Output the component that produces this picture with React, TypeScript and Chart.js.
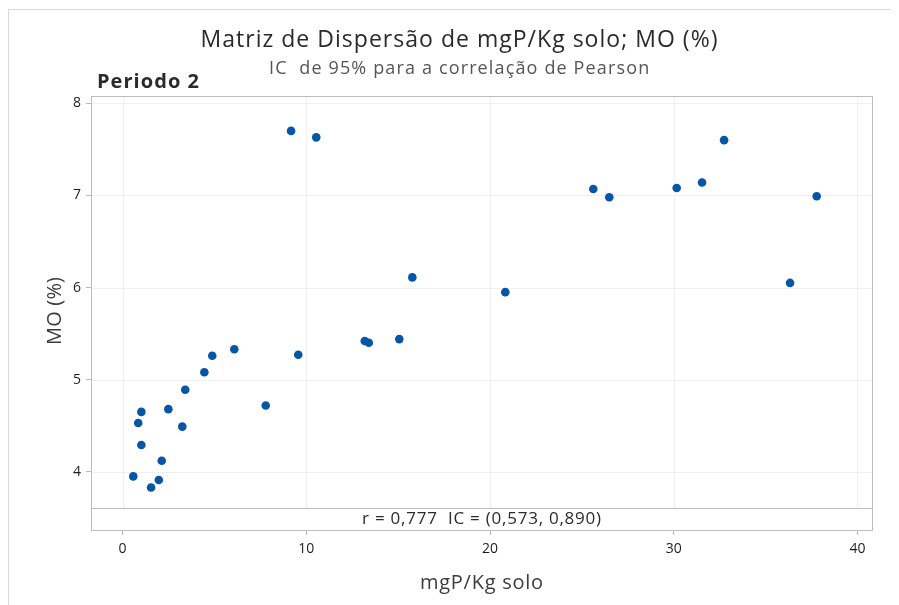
import React, { useEffect, useRef } from "react";
import { Chart, registerables } from "chart.js";

Chart.register(...registerables);

const mgP: number[] = [
  0.58, 1.55, 1.97, 2.13, 1.02, 0.85, 1.02, 2.49, 3.25, 3.41, 4.45, 4.88, 6.08, 7.79, 9.56,
  9.17, 10.54, 15.77, 20.83, 13.18, 13.4, 15.06, 25.62, 26.49, 30.16, 31.54, 32.74, 37.78, 36.33,
];
const MO: number[] = [
  3.95, 3.83, 3.91, 4.12, 4.29, 4.53, 4.65, 4.68, 4.49, 4.89, 5.08, 5.26, 5.33, 4.72, 5.27,
  7.7, 7.63, 6.11, 5.95, 5.42, 5.4, 5.44, 7.07, 6.98, 7.08, 7.14, 7.6, 6.99, 6.05,
];
const xTicks: number[] = [0, 10, 20, 30, 40];
const yTicks: number[] = [4, 5, 6, 7, 8];

const titleText = "Matriz de Dispersão de mgP/Kg solo; MO (%)";
const subtitleText = "IC  de 95% para a correlação de Pearson";
const panelText = "Periodo 2";
const statText = "r = 0,777  IC = (0,573, 0,890)";
const xTitle = "mgP/Kg solo";
const yTitle = "MO (%)";

const FONT = "'Open Sans', 'Noto Sans', sans-serif";
const STRIP_Y = 3.607;

// draw text stretched (via letter spacing) to a target width
function drawFitted(ctx: any, text: string, x: number, y: number, font: string, width: number, align: "left" | "center") {
  ctx.save();
  ctx.font = font;
  ctx.letterSpacing = "0px";
  const w0 = ctx.measureText(text).width;
  const sp = text.length > 1 ? (width - w0) / (text.length - 1) : 0;
  ctx.letterSpacing = `${sp.toFixed(2)}px`;
  ctx.textAlign = "left";
  const startX = align === "center" ? x - width / 2 : x;
  ctx.fillText(text, startX, y);
  ctx.restore();
}

const decor = {
  id: "decor",
  beforeDatasetsDraw(chart: any) {
    const { ctx, chartArea: a, scales } = chart;
    const xs = scales.x;
    const ys = scales.y;
    const stripPx = ys.getPixelForValue(STRIP_Y);
    ctx.save();
    ctx.lineWidth = 1;
    ctx.strokeStyle = "#f0f0f0";
    for (const t of xTicks) {
      const px = Math.round(xs.getPixelForValue(t)) + 0.5;
      ctx.beginPath();
      ctx.moveTo(px, a.top);
      ctx.lineTo(px, stripPx);
      ctx.stroke();
    }
    for (const t of yTicks) {
      const py = Math.round(ys.getPixelForValue(t)) + 0.5;
      ctx.beginPath();
      ctx.moveTo(a.left, py);
      ctx.lineTo(a.right, py);
      ctx.stroke();
    }
    ctx.strokeStyle = "#bcbcbc";
    ctx.strokeRect(Math.round(a.left) + 0.5, Math.round(a.top) + 0.5, Math.round(a.right - a.left), Math.round(a.bottom - a.top));
    ctx.beginPath();
    ctx.moveTo(a.left, Math.round(stripPx) + 0.5);
    ctx.lineTo(a.right, Math.round(stripPx) + 0.5);
    ctx.stroke();
    ctx.restore();
  },
  afterDraw(chart: any) {
    const { ctx, chartArea: a } = chart;
    const cx = (a.left + a.right) / 2;
    ctx.save();
    ctx.textBaseline = "alphabetic";
    ctx.fillStyle = "#2a2a2a";
    drawFitted(ctx, titleText, 450, 37, `23px ${FONT}`, 517, "center");
    ctx.fillStyle = "#555555";
    drawFitted(ctx, subtitleText, 450, 64, `18px ${FONT}`, 380, "center");
    ctx.fillStyle = "#2b2b2b";
    drawFitted(ctx, panelText, 88, 78, `bold 20px ${FONT}`, 102, "left");
    ctx.fillStyle = "#2b2b2b";
    drawFitted(ctx, statText, cx, 514, `17px ${FONT}`, 239, "center");
    ctx.fillStyle = "#3c3c3c";
    drawFitted(ctx, xTitle, cx, 579, `20px ${FONT}`, 123, "center");
    ctx.translate(52, 301);
    ctx.rotate(-Math.PI / 2);
    drawFitted(ctx, yTitle, 0, 0, `20px ${FONT}`, 68, "center");
    ctx.restore();
  },
};

export default function App() {
  const ref = useRef<HTMLCanvasElement | null>(null);
  useEffect(() => {
    document.documentElement.style.overflow = "hidden";
    const canvas = ref.current!;
    const chart = new Chart(canvas, {
      type: "scatter",
      data: {
        datasets: [
          {
            data: mgP.map((x, i) => ({ x, y: MO[i] })),
            backgroundColor: "#0656a8",
            borderColor: "#0656a8",
            borderWidth: 0,
            pointRadius: 4.3,
            pointHoverRadius: 4.3,
          },
        ],
      },
      options: {
        responsive: false,
        animation: false,
        events: [],
        layout: { padding: { left: 0, top: 86, right: 27, bottom: 0 } },
        plugins: { legend: { display: false }, tooltip: { enabled: false }, title: { display: false } },
        scales: {
          x: {
            type: "linear",
            min: -1.72,
            max: 40.79,
            afterBuildTicks: (axis: any) => {
              axis.ticks = xTicks.map((v) => ({ value: v }));
            },
            afterFit: (s: any) => {
              s.height = 76;
            },
            border: { display: false },
            grid: { drawOnChartArea: false, drawTicks: true, tickLength: 5, color: "#bcbcbc" },
            ticks: { padding: 6, color: "#1e1e1e", font: { family: FONT, size: 14 }, maxRotation: 0 },
          },
          y: {
            type: "linear",
            min: 3.368,
            max: 8.079,
            afterBuildTicks: (axis: any) => {
              axis.ticks = yTicks.map((v) => ({ value: v }));
            },
            afterFit: (s: any) => {
              s.width = 82;
            },
            border: { display: false },
            grid: { drawOnChartArea: false, drawTicks: true, tickLength: 5, color: "#bcbcbc" },
            ticks: { padding: 5, color: "#1e1e1e", font: { family: FONT, size: 14 } },
          },
        },
      },
      plugins: [decor],
    });
    return () => chart.destroy();
  }, []);
  return (
    <div
      style={{
        marginTop: 1,
        width: 890,
        height: 596,
        borderTop: "1px solid #dadada",
        borderLeft: "1px solid #dadada",
        background: "#fff",
      }}
    >
      <canvas ref={ref} width={890} height={596} style={{ display: "block" }} />
    </div>
  );
}
